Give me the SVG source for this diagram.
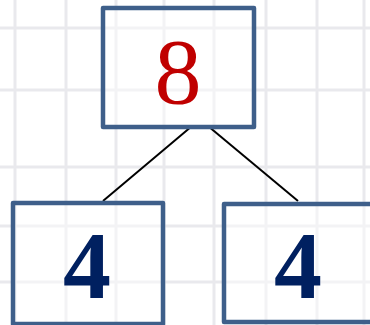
<svg xmlns="http://www.w3.org/2000/svg" width="370" height="325" viewBox="0 0 370 325">
<style>
.grid line{stroke:#e9e9ed;stroke-width:3}
.box{fill:#ffffff;fill-opacity:0.45;stroke:#3e5f8a;stroke-width:4.5;stroke-linejoin:round}
.conn line{stroke:#000000;stroke-width:2}
.n8{font-family:"Liberation Serif",serif;font-size:94px;fill:#c00000;text-anchor:middle}
.n4{font-family:"Liberation Serif",serif;font-size:96px;font-weight:bold;fill:#002060;text-anchor:middle}
</style>
<rect width="370" height="325" fill="#ffffff"/>
<g class="grid">
<line x1="15" y1="0" x2="15" y2="325"/>
<line x1="66" y1="0" x2="66" y2="325"/>
<line x1="116" y1="0" x2="116" y2="325"/>
<line x1="164" y1="0" x2="164" y2="325"/>
<line x1="214" y1="0" x2="214" y2="325"/>
<line x1="266" y1="0" x2="266" y2="325"/>
<line x1="317" y1="0" x2="317" y2="325"/>
<line x1="364" y1="0" x2="364" y2="325"/>
<line x1="0" y1="28" x2="370" y2="28"/>
<line x1="0" y1="90" x2="370" y2="90"/>
<line x1="0" y1="167" x2="370" y2="167"/>
<line x1="0" y1="226" x2="370" y2="226"/>
<line x1="0" y1="282" x2="370" y2="282"/>
</g>
<g class="conn">
<line x1="192" y1="126" x2="103" y2="201"/>
<line x1="208" y1="126" x2="298" y2="201"/>
</g>
<g id="node-8">
<rect class="box" x="103" y="8" width="151" height="119"/>
<text class="n8" x="178" y="103">8</text>
</g>
<g id="node-4-left">
<rect class="box" x="13" y="203" width="150" height="121"/>
<text class="n4" x="87" y="298">4</text>
</g>
<g id="node-4-right">
<rect class="box" x="224" y="204" width="150" height="118"/>
<text class="n4" x="298" y="298">4</text>
</g>
</svg>
